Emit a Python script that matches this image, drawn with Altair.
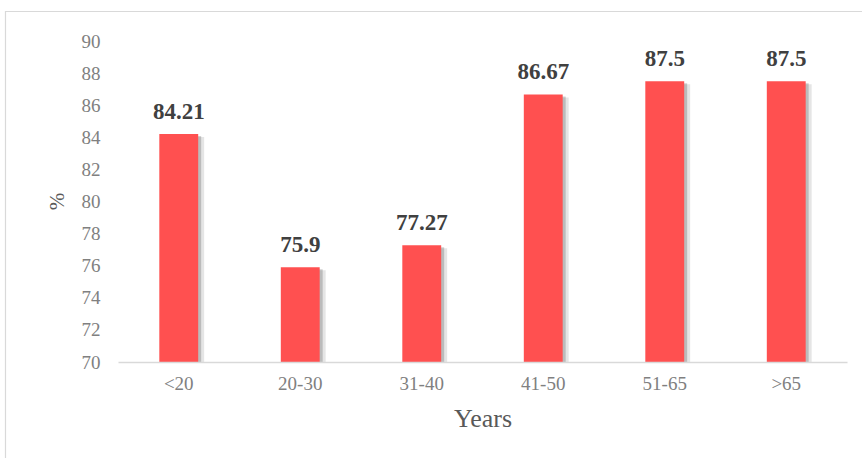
import altair as alt
import pandas as pd

categories = ["<20", "20-30", "31-40", "41-50", "51-65", ">65"]
values = [84.21, 75.9, 77.27, 86.67, 87.5, 87.5]
y_ticks = [70, 72, 74, 76, 78, 80, 82, 84, 86, 88, 90]

df = pd.DataFrame({
    "cat": categories,
    "val": values,
    "lbl": [str(v) for v in values],
})

SERIF = "Liberation Serif"
W, H = 729, 321

x_enc = alt.X(
    "cat:N", sort=categories,
    scale=alt.Scale(paddingInner=0.68, paddingOuter=0.34),
    axis=alt.Axis(
        title="Years", labelAngle=0, ticks=False, domain=True,
        domainColor="#d9d9d9", domainWidth=1.5, zindex=1,
        labelFont=SERIF, labelFontSize=19, labelColor="#808080", labelPadding=12,
        titleFont=SERIF, titleFontSize=26, titleColor="#595959",
        titleFontWeight="normal", titleX=W / 2, titleY=56,
        titleBaseline="middle", titleAlign="center",
    ),
)
y_enc = alt.Y(
    "val:Q",
    scale=alt.Scale(domain=[70, 90], nice=False, zero=False),
    axis=alt.Axis(
        title="%", values=y_ticks, ticks=False, domain=False, grid=False,
        labelFont=SERIF, labelFontSize=19, labelColor="#808080", labelPadding=18,
        titleFont=SERIF, titleFontSize=21, titleColor="#595959",
        titleFontWeight="normal", titleX=-61, titleY=160,
        titleBaseline="middle", titleAlign="center",
    ),
)

base = alt.Chart(df)

border = base.mark_rect(filled=False, stroke="#d9d9d9", strokeWidth=1.2).encode(
    x=alt.value(-112.5), x2=alt.value(760), y=alt.value(-29.5), y2=alt.value(460)
).transform_filter(alt.datum.cat == "<20")

shadow1 = base.mark_bar(color="#000000", opacity=0.10, xOffset=6, yOffset=3).encode(
    x=x_enc, y=y_enc, y2=alt.datum(70)
)
shadow2 = base.mark_bar(color="#000000", opacity=0.18, xOffset=3, yOffset=2).encode(
    x=x_enc, y=y_enc, y2=alt.datum(70)
)
bars = base.mark_bar(color="#FF5050").encode(
    x=x_enc, y=y_enc, y2=alt.datum(70)
)
labels = base.mark_text(
    font=SERIF, fontSize=23, fontWeight="bold", color="#404040",
    baseline="alphabetic", dy=-15,
).encode(x=x_enc, y=y_enc, text="lbl:N")

chart = alt.layer(border, shadow1, shadow2, bars, labels).properties(
    width=W, height=H,
    autosize=alt.AutoSizeParams(type="none"),
    padding={"left": 118, "top": 41, "right": 15, "bottom": 96},
    background="white",
).configure_view(stroke=None)

chart.save("out.html", embed_options={"renderer": "svg", "actions": False})
